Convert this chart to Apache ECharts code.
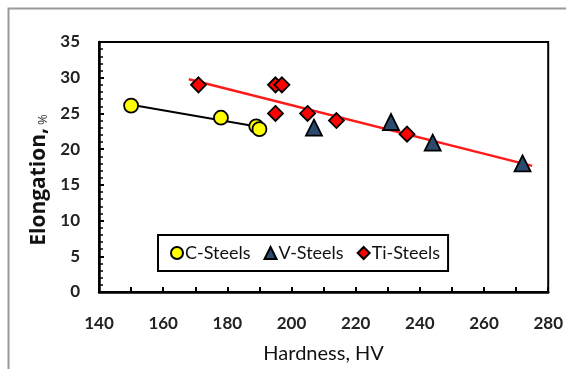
<!DOCTYPE html>
<html>
<head>
<meta charset="utf-8">
<script src="https://cdn.jsdelivr.net/npm/echarts@6/dist/echarts.min.js"></script>
<style>
  html, body { margin: 0; padding: 0; background: #fff; }
  #chart { width: 566px; height: 369px; }
</style>
</head>
<body>
<div id="chart"></div>
<script>
// Hardness (HV) vs elongation (%) for three steel groups
const cSteelHardness = [150, 178, 189, 190];
const cSteelElong    = [26.1, 24.4, 23.2, 22.8];

const vSteelHardness = [207, 231, 244, 272];
const vSteelElong    = [23.0, 23.8, 20.9, 18.0];

const tiSteelHardness = [171, 195, 197, 195, 205, 214, 236];
const tiSteelElong    = [29.0, 29.0, 29.0, 25.0, 25.0, 24.0, 22.1];

const xTicks = [140, 160, 180, 200, 220, 240, 260, 280];
const yTicks = [0, 5, 10, 15, 20, 25, 30, 35];

// Extent of each fitted trend line along the hardness axis
const cTrendRange  = [150, 190];
const viTrendRange = [168, 275];

function pairs(xs, ys) { return xs.map((x, i) => [x, ys[i]]); }

// Ordinary least-squares fit, returned as two end points over the given range
function fitLine(xs, ys, range) {
  const n = xs.length;
  const mx = xs.reduce((a, b) => a + b, 0) / n;
  const my = ys.reduce((a, b) => a + b, 0) / n;
  let sxy = 0, sxx = 0;
  for (let i = 0; i < n; i++) {
    sxy += (xs[i] - mx) * (ys[i] - my);
    sxx += (xs[i] - mx) * (xs[i] - mx);
  }
  const k = sxy / sxx;
  const b = my - k * mx;
  return range.map(x => [x, k * x + b]);
}

const cTrend = fitLine(cSteelHardness, cSteelElong, cTrendRange);
const viTrend = fitLine(vSteelHardness.concat(tiSteelHardness),
                        vSteelElong.concat(tiSteelElong), viTrendRange);

const FONT = 'Lato';
const TITLE_FONT = 'Open Sans';
const chart = echarts.init(document.getElementById('chart'), null, { renderer: 'canvas' });

chart.setOption({
  animation: false,
  backgroundColor: '#fff',
  textStyle: { fontFamily: FONT },
  graphic: [{
    type: 'rect',
    shape: { x: 8.5, y: 8.5, width: 700, height: 500 },
    style: { fill: 'none', stroke: '#9a9a9a', lineWidth: 2 },
    silent: true, z: -1
  }],
  grid: {
    left: 99, right: 16, top: 42, bottom: 77,
    show: true, borderColor: '#000', borderWidth: 2, backgroundColor: '#fff'
  },
  legend: {
    left: 158, top: 235,
    padding: [9, 8, 9, 12],
    backgroundColor: '#fff',
    borderColor: '#000', borderWidth: 2, borderRadius: 0,
    itemGap: 13, itemWidth: 12, itemHeight: 12,
    textStyle: { fontFamily: FONT, fontSize: 18, color: '#111', padding: [0, 0, 0, -3] },
    data: [
      { name: 'C-Steels', icon: 'circle' },
      { name: 'V-Steels', icon: 'triangle' },
      { name: 'Ti-Steels', icon: 'diamond' }
    ]
  },
  xAxis: {
    type: 'value', min: xTicks[0], max: xTicks[xTicks.length - 1], interval: 20,
    name: 'Hardness, HV', nameLocation: 'middle', nameGap: 52,
    nameTextStyle: { fontFamily: FONT, fontSize: 20, color: '#111' },
    axisLine: { lineStyle: { color: '#000', width: 2.5 } },
    axisTick: { inside: true, length: 5, lineStyle: { color: '#000', width: 2 } },
    minorTick: { show: true, splitNumber: 2, length: 5, lineStyle: { color: '#000', width: 2 } },
    axisLabel: { margin: 23, fontFamily: FONT, fontSize: 17, fontWeight: 'bold', color: '#222' },
    splitLine: { show: false }
  },
  yAxis: {
    type: 'value', min: yTicks[0], max: yTicks[yTicks.length - 1], interval: 5,
    name: '{a|Elongation,}{b|%}', nameLocation: 'middle', nameGap: 46,
    nameTextStyle: {
      padding: [0, 26, 0, 0],
      rich: {
        a: { fontFamily: TITLE_FONT, fontSize: 21, fontWeight: 'bold', color: '#111' },
        b: { fontFamily: TITLE_FONT, fontSize: 13, color: '#333', verticalAlign: 'bottom', padding: [0, 0, 0, 3] }
      }
    },
    axisLine: { lineStyle: { color: '#000', width: 2.5 } },
    axisTick: { inside: true, length: 5, lineStyle: { color: '#000', width: 2 } },
    minorTick: { show: true, splitNumber: 5, length: 4, lineStyle: { color: '#000', width: 1.5 } },
    axisLabel: { margin: 19, fontFamily: FONT, fontSize: 17, fontWeight: 'bold', color: '#222' },
    splitLine: { show: false }
  },
  series: [
    {
      name: 'C-trend', type: 'line', data: cTrend, symbol: 'none',
      lineStyle: { color: '#000', width: 2 }, z: 1, silent: true
    },
    {
      name: 'VTi-trend', type: 'line', data: viTrend, symbol: 'none',
      lineStyle: { color: '#ff1a1a', width: 2.5 }, z: 1, silent: true
    },
    {
      name: 'C-Steels', type: 'scatter', data: pairs(cSteelHardness, cSteelElong),
      symbol: 'circle', symbolSize: 14,
      itemStyle: { color: '#ffff00', borderColor: '#000', borderWidth: 1.8, opacity: 1 }, z: 3
    },
    {
      name: 'V-Steels', type: 'scatter', data: pairs(vSteelHardness, vSteelElong),
      symbol: 'triangle', symbolSize: 16,
      itemStyle: { color: '#2c4a6e', borderColor: '#000', borderWidth: 1.8, opacity: 1 }, z: 3
    },
    {
      name: 'Ti-Steels', type: 'scatter', data: pairs(tiSteelHardness, tiSteelElong),
      symbol: 'diamond', symbolSize: 15,
      itemStyle: { color: '#ff0000', borderColor: '#000', borderWidth: 1.8, opacity: 1 }, z: 3
    }
  ]
});
</script>
</body>
</html>
